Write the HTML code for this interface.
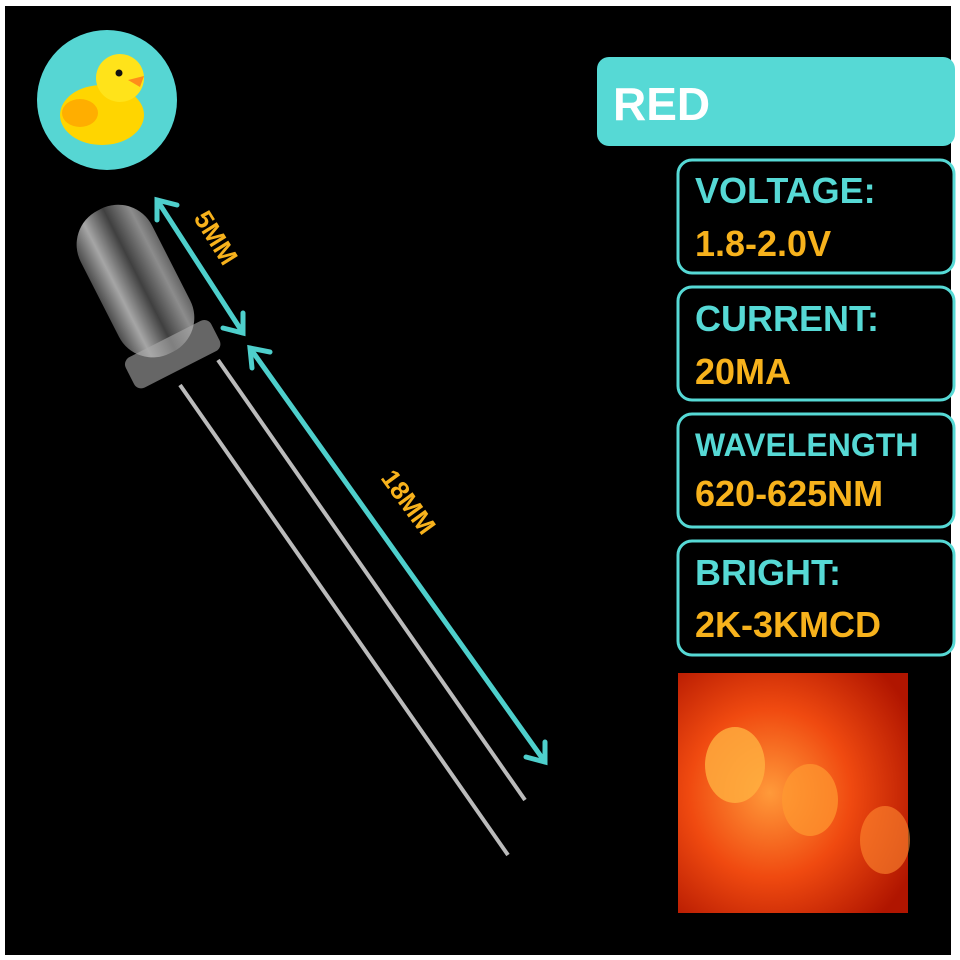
<!DOCTYPE html>
<html><head><style>
html,body{margin:0;padding:0;background:#fff;}
body{width:960px;height:960px;position:relative;overflow:hidden;font-family:"Liberation Sans",sans-serif;}
</style></head><body>
<svg width="960" height="960" viewBox="0 0 960 960" xmlns="http://www.w3.org/2000/svg" style="position:absolute;left:0;top:0">
<defs>
<radialGradient id="red" cx="0.4" cy="0.5" r="0.7">
<stop offset="0" stop-color="#ff9a3a"/><stop offset="0.5" stop-color="#f04a10"/><stop offset="1" stop-color="#b01500"/>
</radialGradient>
<linearGradient id="led" x1="0" y1="0" x2="1" y2="0">
<stop offset="0" stop-color="#666"/><stop offset="0.25" stop-color="#ddd"/><stop offset="0.55" stop-color="#555"/><stop offset="0.85" stop-color="#bbb"/><stop offset="1" stop-color="#888"/>
</linearGradient>
</defs>
<rect x="5" y="6" width="946" height="949" fill="#000"/>
<!-- duck -->
<circle cx="107" cy="100" r="70" fill="#56d6d3"/>
<ellipse cx="102" cy="115" rx="42" ry="30" fill="#ffd500"/>
<circle cx="120" cy="78" r="24" fill="#ffe31a"/>
<ellipse cx="80" cy="113" rx="18" ry="14" fill="#ffae00"/>
<circle cx="119" cy="73" r="3.5" fill="#111"/>
<path d="M128 80 L144 76 L140 87 Z" fill="#ff8c1a"/>
<!-- LED body -->
<g transform="rotate(-27 140 290)">
<rect x="100" y="200" width="80" height="160" rx="38" fill="url(#led)" opacity="0.75"/>
<rect x="92" y="345" width="96" height="34" rx="8" fill="#aaa" opacity="0.6"/>
</g>
<line x1="180" y1="385" x2="508" y2="855" stroke="#bbb" stroke-width="4"/>
<line x1="218" y1="360" x2="525" y2="800" stroke="#bbb" stroke-width="4"/>
<!-- arrows -->
<g stroke="#4ecfcc" stroke-width="5" fill="none" stroke-linecap="round">
<line x1="157" y1="200" x2="243" y2="333"/>
<polyline points="157,220 157,200 177,205"/>
<polyline points="223,328 243,333 243,313"/>
<line x1="250" y1="348" x2="545" y2="762"/>
<polyline points="252,368 250,348 270,352"/>
<polyline points="526,757 545,762 545,742"/>
</g>
<text transform="translate(193 218) rotate(58)" font-size="26" font-weight="bold" fill="#f7b21c">5MM</text>
<text transform="translate(380 478) rotate(54)" font-size="26" font-weight="bold" fill="#f7b21c">18MM</text>
<!-- RED -->
<rect x="597" y="57" width="358" height="89" rx="12" fill="#56d9d5"/>
<text x="613" y="120" font-size="46" font-weight="bold" fill="#fff">RED</text>
<g stroke="#56d9d5" stroke-width="3" fill="#000">
<rect x="678" y="160" width="276" height="113" rx="14"/>
<rect x="678" y="287" width="276" height="113" rx="14"/>
<rect x="678" y="414" width="276" height="113" rx="14"/>
<rect x="678" y="541" width="276" height="114" rx="14"/>
</g>
<g font-size="36" font-weight="bold">
<text x="695" y="203" fill="#56d9d5">VOLTAGE:</text>
<text x="695" y="256" fill="#f7b21c">1.8-2.0V</text>
<text x="695" y="331" fill="#56d9d5">CURRENT:</text>
<text x="695" y="384" fill="#f7b21c">20MA</text>
<text x="695" y="456" fill="#56d9d5" font-size="32">WAVELENGTH</text>
<text x="695" y="506" fill="#f7b21c">620-625NM</text>
<text x="695" y="585" fill="#56d9d5">BRIGHT:</text>
<text x="695" y="637" fill="#f7b21c">2K-3KMCD</text>
</g>
<!-- photo -->
<rect x="678" y="673" width="230" height="240" fill="url(#red)"/>
<ellipse cx="735" cy="765" rx="30" ry="38" fill="#ffb040" opacity="0.8"/>
<ellipse cx="810" cy="800" rx="28" ry="36" fill="#ff9a30" opacity="0.7"/>
<ellipse cx="885" cy="840" rx="25" ry="34" fill="#ff8a30" opacity="0.6"/>
</svg>
</body></html>
